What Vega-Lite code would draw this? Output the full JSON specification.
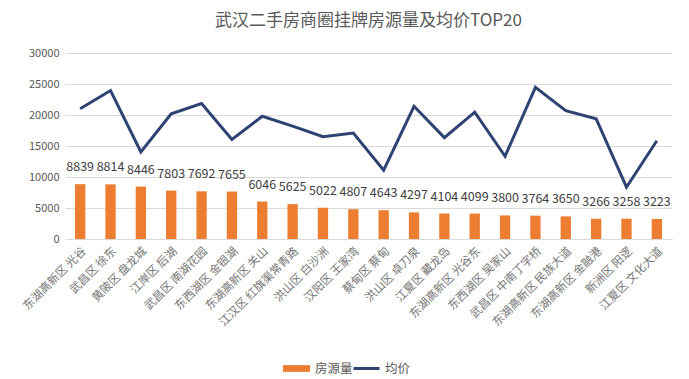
{
  "$schema": "https://vega.github.io/schema/vega-lite/v6.json",
  "width": 607,
  "height": 186,
  "autosize": "none",
  "padding": {"left": 65, "top": 53, "right": 17, "bottom": 140},
  "background": "white",
  "config": {
    "font": "Noto Sans CJK SC",
    "view": {"stroke": null},
    "axisY": {"grid": true, "gridColor": "#D9D9D9", "gridWidth": 1, "gridOpacity": 1}
  },
  "title": {
    "text": "武汉二手房商圈挂牌房源量及均价TOP20",
    "fontSize": 17,
    "fontWeight": "normal",
    "color": "#595959",
    "offset": 17,
    "anchor": "middle"
  },
  "data": {
    "values": [
      {"area": "东湖高新区 光谷", "count": 8839, "price": 21000},
      {"area": "武昌区 徐东", "count": 8814, "price": 23950},
      {"area": "黄陂区 盘龙城", "count": 8446, "price": 14050},
      {"area": "江岸区 后湖", "count": 7803, "price": 20200},
      {"area": "武昌区 南湖花园", "count": 7692, "price": 21850},
      {"area": "东西湖区 金银湖", "count": 7655, "price": 16050},
      {"area": "东湖高新区 关山", "count": 6046, "price": 19800},
      {"area": "江汉区 红旗渠常青路", "count": 5625, "price": 18200},
      {"area": "洪山区 白沙洲", "count": 5022, "price": 16500},
      {"area": "汉阳区 王家湾", "count": 4807, "price": 17100},
      {"area": "蔡甸区 蔡甸", "count": 4643, "price": 11100},
      {"area": "洪山区 卓刀泉", "count": 4297, "price": 21400},
      {"area": "江夏区 藏龙岛", "count": 4104, "price": 16350},
      {"area": "东湖高新区 光谷东", "count": 4099, "price": 20450},
      {"area": "东西湖区 吴家山", "count": 3800, "price": 13350},
      {"area": "武昌区 中南丁字桥", "count": 3764, "price": 24450},
      {"area": "东湖高新区 民族大道", "count": 3650, "price": 20700},
      {"area": "东湖高新区 金融港", "count": 3266, "price": 19400},
      {"area": "新洲区 阳逻", "count": 3258, "price": 8350},
      {"area": "江夏区 文化大道", "count": 3223, "price": 15850}
    ]
  },
  "encoding": {
    "x": {
      "field": "area",
      "type": "nominal",
      "sort": null,
      "scale": {"paddingInner": 0.66, "paddingOuter": 0.33},
      "axis": {
        "title": null,
        "labelAngle": -45,
        "labelFontSize": 11.5,
        "labelColor": "#767676",
        "ticks": false,
        "domainColor": "#D9D9D9",
        "labelPadding": 6
      }
    },
    "y": {
      "field": "count",
      "type": "quantitative",
      "scale": {"domain": [0, 30000]},
      "axis": {
        "title": null,
        "values": [0, 5000, 10000, 15000, 20000, 25000, 30000],
        "format": "d",
        "labelFontSize": 11,
        "labelColor": "#595959",
        "labelOverlap": false,
        "ticks": false,
        "domain": false,
        "grid": true,
        "gridColor": "#D9D9D9",
        "labelPadding": 6
      }
    }
  },
  "layer": [
    {
      "mark": {"type": "bar", "color": "#ED7D31"},
      "encoding": {
        "fill": {
          "datum": "房源量",
          "scale": {"domain": ["房源量"], "range": ["#ED7D31"]},
          "legend": {
            "title": null,
            "orient": "none",
            "legendX": 217,
            "legendY": 301,
            "symbolType": "M-1,-0.25H1V0.25H-1Z",
            "symbolSize": 729,
            "labelFontSize": 12.5,
            "labelColor": "#595959"
          }
        }
      }
    },
    {
      "mark": {"type": "text", "dy": -10, "fontSize": 12.5, "color": "#404040", "baseline": "bottom"},
      "encoding": {
        "text": {"field": "count", "type": "quantitative", "format": "d"}
      }
    },
    {
      "mark": {"type": "line", "strokeWidth": 3},
      "encoding": {
        "y": {"field": "price", "type": "quantitative"},
        "stroke": {
          "datum": "均价",
          "scale": {"domain": ["均价"], "range": ["#2E4374"]},
          "legend": {
            "title": null,
            "orient": "none",
            "legendX": 287,
            "legendY": 301,
            "symbolStrokeWidth": 3,
            "symbolSize": 676,
            "labelFontSize": 12.5,
            "labelColor": "#595959"
          }
        }
      }
    }
  ],
  "resolve": {"scale": {"fill": "independent", "stroke": "independent"}}
}
